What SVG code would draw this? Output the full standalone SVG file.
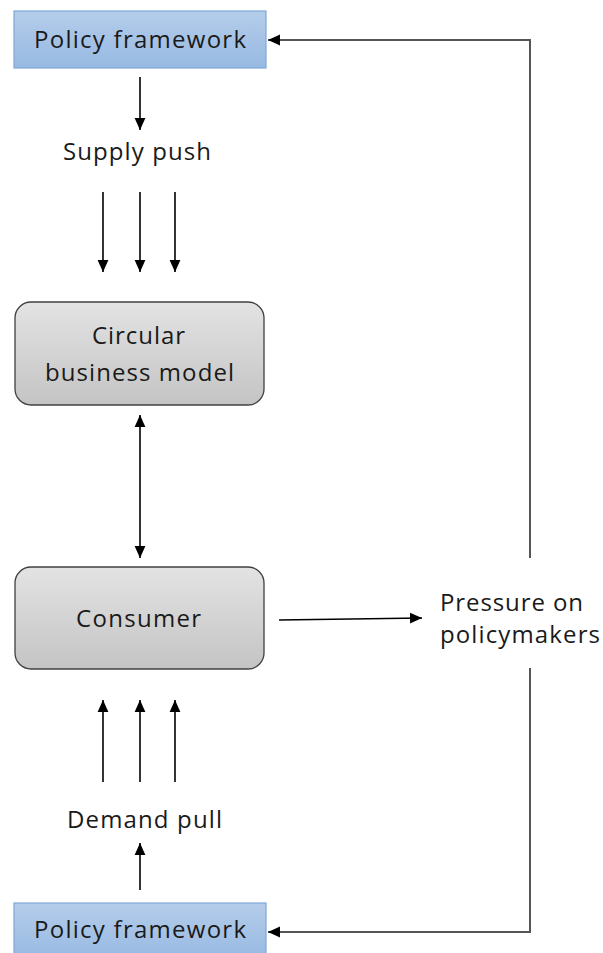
<svg xmlns="http://www.w3.org/2000/svg" width="603" height="953" viewBox="0 0 603 953">
<style>
text{font-family:"Open Sans","Liberation Sans",sans-serif;font-size:24px;fill:#1a1a1a;text-anchor:middle}
.pf{fill:url(#blue);stroke:#7fa7d6;stroke-width:1.2}
.gb{fill:url(#gray);stroke:#404040;stroke-width:1.3}
.c{stroke:#000;stroke-width:1.6;fill:none}
.g{stroke:#555;stroke-width:2;fill:none}
</style>
<defs>
<linearGradient id="blue" x1="0" y1="0" x2="0" y2="1"><stop offset="0" stop-color="#b4cdea"/><stop offset="1" stop-color="#97b9e2"/></linearGradient>
<linearGradient id="gray" x1="0" y1="0" x2="0" y2="1"><stop offset="0" stop-color="#e3e3e3"/><stop offset="1" stop-color="#c4c4c4"/></linearGradient>
<marker id="ah" viewBox="0 0 10 10" refX="10" refY="5" markerWidth="12" markerHeight="12" markerUnits="userSpaceOnUse" orient="auto-start-reverse"><path d="M0,0.5 L10,5 L0,9.5 z" fill="#000"/></marker>
</defs>
<g id="policy-top"><rect class="pf" x="14" y="11" width="252" height="57"/><text x="140" y="48" textLength="212">Policy framework</text></g>
<g id="supply-push"><text x="137" y="160" textLength="148">Supply push</text></g>
<g id="circular"><rect class="gb" x="15" y="302" width="249" height="103" rx="16"/><text x="138.5" y="344" textLength="93">Circular</text><text x="139.5" y="381" textLength="189">business model</text></g>
<g id="consumer"><rect class="gb" x="15" y="567" width="249" height="102" rx="16"/><text x="138.5" y="627" textLength="125">Consumer</text></g>
<g id="pressure"><text x="511.5" y="611" textLength="143">Pressure on</text><text x="520" y="643" textLength="160">policymakers</text></g>
<g id="demand-pull"><text x="144.5" y="828" textLength="155">Demand pull</text></g>
<g id="policy-bottom"><rect class="pf" x="14" y="903" width="252" height="57"/><text x="140" y="938" textLength="212">Policy framework</text></g>
<g id="connectors">
<line class="c" x1="140" y1="77" x2="140" y2="130" marker-end="url(#ah)"/>
<line class="c" x1="103" y1="192" x2="103" y2="272" marker-end="url(#ah)"/>
<line class="c" x1="140" y1="192" x2="140" y2="272" marker-end="url(#ah)"/>
<line class="c" x1="175" y1="192" x2="175" y2="272" marker-end="url(#ah)"/>
<line class="c" x1="140" y1="415" x2="140" y2="558" marker-start="url(#ah)" marker-end="url(#ah)"/>
<line class="c" x1="279" y1="620" x2="422" y2="618" marker-end="url(#ah)"/>
<line class="c" x1="103" y1="782" x2="103" y2="700" marker-end="url(#ah)"/>
<line class="c" x1="140" y1="782" x2="140" y2="700" marker-end="url(#ah)"/>
<line class="c" x1="175" y1="782" x2="175" y2="700" marker-end="url(#ah)"/>
<line class="c" x1="140" y1="890" x2="140" y2="843" marker-end="url(#ah)"/>
<polyline class="g" points="530,558 530,40 268,40" marker-end="url(#ah)"/>
<polyline class="g" points="530,668 530,932 268,932" marker-end="url(#ah)"/>
</g>
</svg>
